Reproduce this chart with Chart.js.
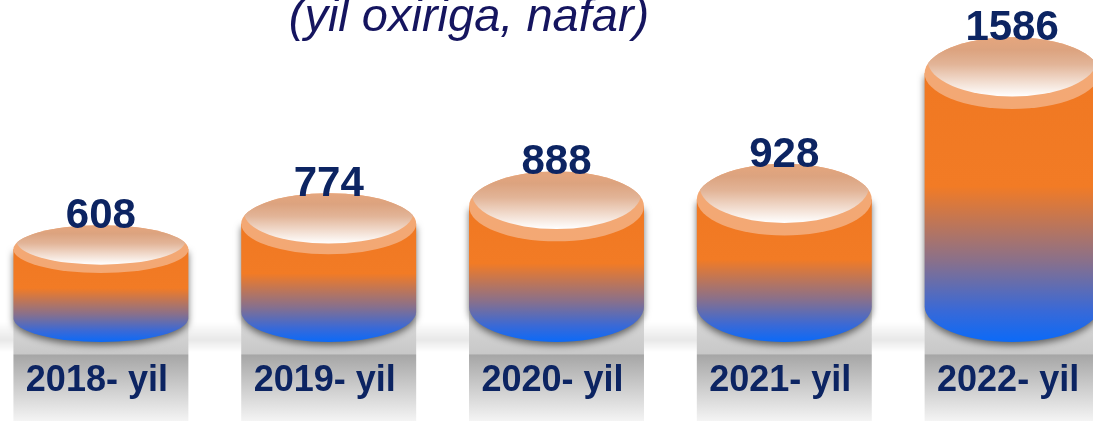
<!DOCTYPE html>
<html>
<head>
<meta charset="utf-8">
<script src="https://cdn.jsdelivr.net/npm/chart.js@4.4.0/dist/chart.umd.min.js"></script>
<style>
  html, body { margin: 0; padding: 0; background: #fff; overflow: hidden; }
  #wrap { position: absolute; left: -13px; top: 0; width: 1139px; height: 421px; }
</style>
</head>
<body>
<div id="wrap"><canvas id="chart1" width="1139" height="421"></canvas></div>
<script>
const categories = ["2018- yil", "2019- yil", "2020- yil", "2021- yil", "2022- yil"];
const values = [608, 774, 888, 928, 1586];
const titleText = "(yil oxiriga, nafar)";

const navy = "#0c2462";

const cylinderPlugin = {
  id: "cylinders",
  afterDatasetsDraw(chart) {
    const ctx = chart.ctx;
    const meta = chart.getDatasetMeta(0);
    const base = chart.chartArea.bottom;
    ctx.save();

    // soft floor band across the picture
    let g = ctx.createLinearGradient(0, base - 20, 0, base + 10);
    g.addColorStop(0, "rgba(0,0,0,0)");
    g.addColorStop(0.6, "rgba(0,0,0,0.09)");
    g.addColorStop(1, "rgba(0,0,0,0)");
    ctx.fillStyle = g;
    ctx.fillRect(0, base - 20, chart.width, 30);

    meta.data.forEach((bar, i) => {
      const p = bar.getProps(["x", "y", "base", "width"], true);
      const w = p.width, rx = w / 2, left = p.x - rx;
      const H = p.base - p.y;
      const ry = 0.205 * Math.min(w, H);
      const topC = p.y + ry, botC = p.base - ry;

      // grey pedestal under each cylinder
      let gg = ctx.createLinearGradient(0, botC, 0, chart.height);
      const k = (p.base + 13 - botC) / (chart.height - botC);
      gg.addColorStop(0, "#dcdcdc");
      gg.addColorStop(Math.max(0, k - 0.01), "#c8c8c8");
      gg.addColorStop(k, "#a6a6a6");
      gg.addColorStop(1, "#f4f4f4");
      ctx.fillStyle = gg;
      ctx.fillRect(left, botC, w, chart.height - botC);

      // side of the cylinder
      ctx.save();
      ctx.beginPath();
      ctx.moveTo(left, topC);
      ctx.lineTo(left, botC);
      ctx.ellipse(p.x, botC, rx, ry, 0, Math.PI, 0, true);
      ctx.lineTo(left + w, topC);
      ctx.closePath();
      let sg = ctx.createLinearGradient(0, topC, 0, p.base);
      sg.addColorStop(0, "#f07822");
      sg.addColorStop(0.42, "#f27b25");
      sg.addColorStop(0.7, "#89708b");
      sg.addColorStop(0.88, "#3a69d6");
      sg.addColorStop(1, "#0b6af8");
      ctx.shadowColor = "rgba(0,0,0,0.55)";
      ctx.shadowBlur = 7;
      ctx.shadowOffsetY = 3;
      ctx.fillStyle = sg;
      ctx.fill();
      ctx.restore();

      // top ellipse
      ctx.save();
      ctx.beginPath();
      ctx.ellipse(p.x, topC, rx, ry, 0, 0, Math.PI * 2);
      ctx.fillStyle = "#f3a874";
      ctx.fill();
      ctx.clip();
      const ic = topC - 0.35 * ry;
      ctx.beginPath();
      ctx.ellipse(p.x, ic, rx - 3, ry, 0, 0, Math.PI * 2);
      let tg = ctx.createLinearGradient(0, ic - ry, 0, ic + ry);
      tg.addColorStop(0, "#eea87b");
      tg.addColorStop(0.35, "#dca37f");
      tg.addColorStop(0.55, "#e2b497");
      tg.addColorStop(1, "#ffffff");
      ctx.fillStyle = tg;
      ctx.fill();
      ctx.restore();

      // value on top
      ctx.fillStyle = navy;
      ctx.textAlign = "center";
      ctx.textBaseline = "alphabetic";
      ctx.font = "bold 42px 'Liberation Sans', Arial, sans-serif";
      ctx.fillText(chart.data.datasets[0].data[i], p.x, p.y + 3);

      // category label
      ctx.font = "bold 36px 'Liberation Sans', Arial, sans-serif";
      ctx.fillText(chart.data.labels[i], p.x - 4, p.base + 49);
    });

    // title (cut at the top like the original)
    ctx.fillStyle = "#15155f";
    ctx.font = "italic 47px 'Liberation Sans', Arial, sans-serif";
    ctx.textAlign = "center";
    ctx.fillText(titleText, 482, 31);
    ctx.restore();
  }
};

function renderChart() {
  const ctx = document.querySelector("#chart1").getContext("2d");
  const chart = new Chart(ctx, {
    type: "bar",
    data: {
      labels: categories,
      datasets: [
        {
          label: "nafar",
          data: values,
          backgroundColor: "rgba(0,0,0,0)",
          borderWidth: 0,
          categoryPercentage: 1,
          barPercentage: 0.768,
        },
      ],
    },
    options: {
      responsive: false,
      animation: false,
      devicePixelRatio: 1,
      layout: { padding: { top: 0, bottom: 79, left: 0, right: 0 } },
      scales: {
        x: { display: false },
        y: { display: false, min: 0, max: 1780 },
      },
      plugins: {
        legend: { display: false },
        title: { display: false },
        tooltip: { enabled: false },
      },
    },
    plugins: [cylinderPlugin],
  });
}
renderChart();
</script>
</body>
</html>
